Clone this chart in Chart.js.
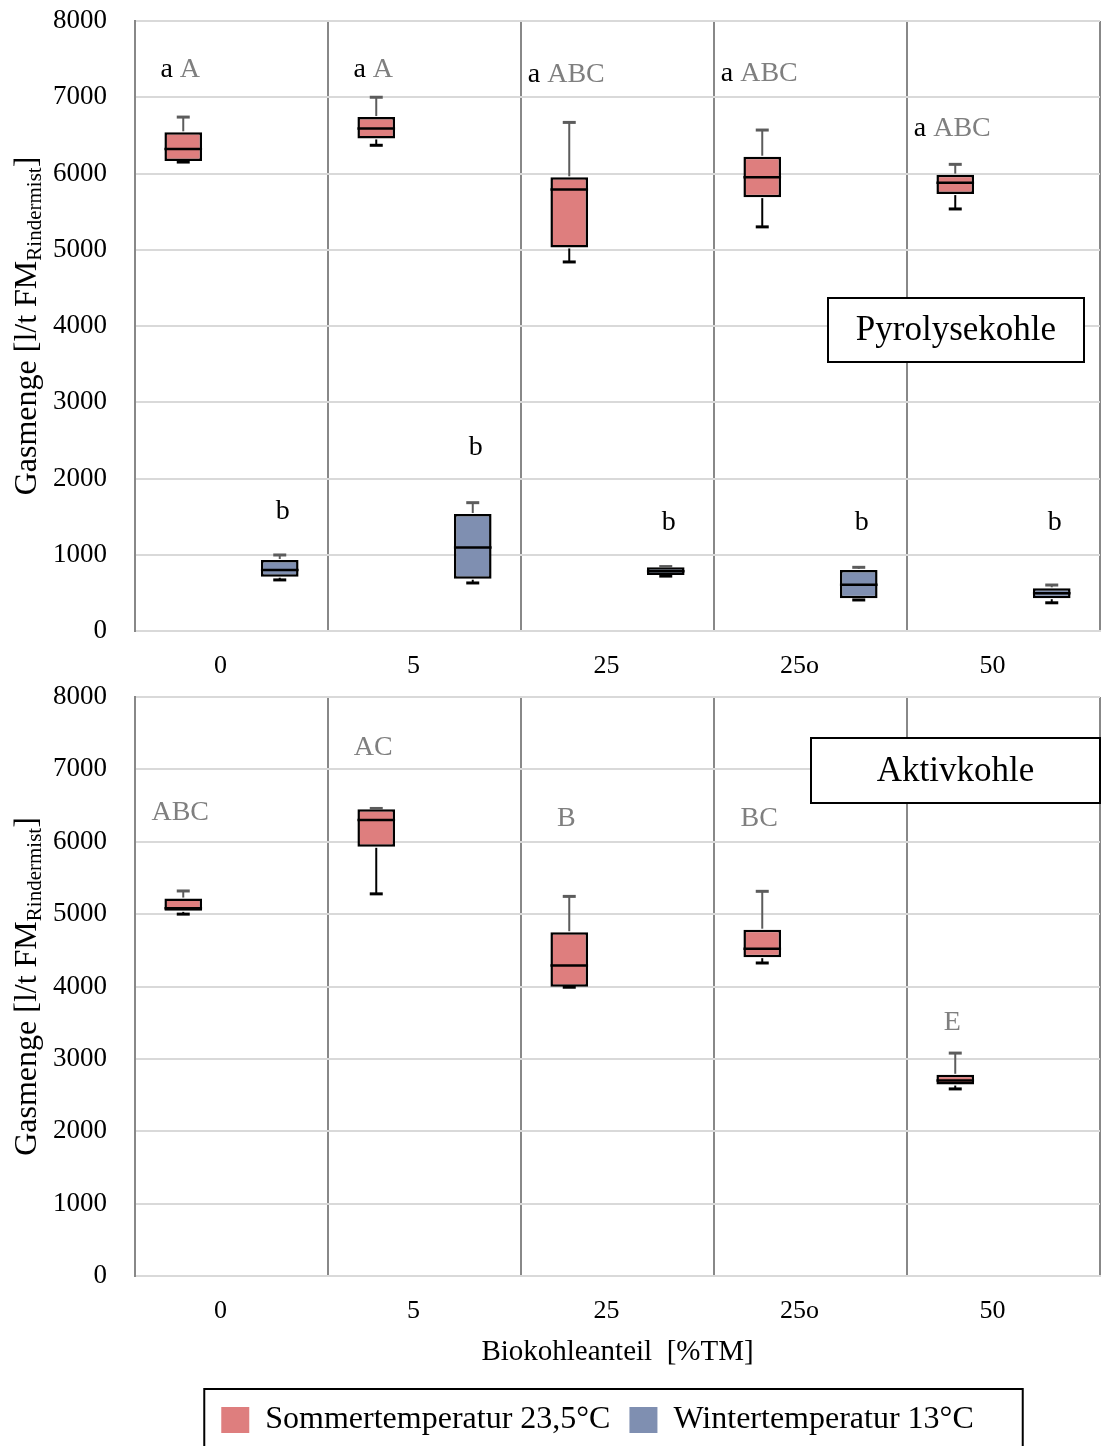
<!DOCTYPE html>
<html><head><meta charset="utf-8">
<script src="https://cdn.jsdelivr.net/npm/chart.js@4.4.1/dist/chart.umd.min.js"></script>
<style>
html,body{margin:0;padding:0;background:#fff;overflow:hidden;}
#wrap{position:relative;width:1102px;height:1446px;overflow:hidden;}
.cv{position:absolute;left:0;}
</style></head><body>
<div id="wrap">
<canvas id="c1" class="cv" width="1102" height="680" style="top:0"></canvas>
<canvas id="c2" class="cv" width="1102" height="766" style="top:680px"></canvas>
</div>
<script>
// ---------- DATA ----------
const categories = ['0', '5', '25', '25o', '50'];
const seriesNames = ['Sommertemperatur 23,5°C', 'Wintertemperatur 13°C'];
const yTicks = [0, 1000, 2000, 3000, 4000, 5000, 6000, 7000, 8000];

// Pyrolysekohle – Sommer
const pyroSummerMin    = [6150, 6370, 4840, 5300, 5535];
const pyroSummerQ1     = [6165, 6460, 5030, 5690, 5730];
const pyroSummerMedian = [6320, 6590, 5790, 5950, 5880];
const pyroSummerQ3     = [6540, 6740, 5950, 6220, 5985];
const pyroSummerMax    = [6740, 7000, 6670, 6570, 6120];
// Pyrolysekohle – Winter
const pyroWinterMin    = [670, 630, 720, 407, 370];
const pyroWinterQ1     = [712, 686, 735, 428, 430];
const pyroWinterMedian = [800, 1095, 783, 608, 494];
const pyroWinterQ3     = [931, 1534, 835, 800, 560];
const pyroWinterMax    = [997, 1683, 845, 835, 603];
// Aktivkohle – Sommer
const aktivSummerMin    = [5000, 5280, 3990, 4325, 2585];
const aktivSummerQ1     = [5045, 5930, 3995, 4405, 2645];
const aktivSummerMedian = [5080, 6300, 4290, 4520, 2700];
const aktivSummerQ3     = [5215, 6450, 4750, 4785, 2780];
const aktivSummerMax    = [5320, 6460, 5245, 5315, 3080];
const emptySeries       = [null, null, null, null, null];

// significance letters
const pyroSummerGroup   = ['a', 'a', 'a', 'a', 'a'];
const pyroSummerLetters = ['A', 'A', 'ABC', 'ABC', 'ABC'];
const pyroSummerLabelAt = [7357, 7357, 7292, 7305, 6584];
const pyroWinterLetters = ['b', 'b', 'b', 'b', 'b'];
const pyroWinterLabelAt = [1561, 2400, 1416, 1416, 1416];
const aktivSummerLetters = ['ABC', 'AC', 'B', 'BC', 'E'];
const aktivSummerLabelAt = [6408, 7294, 6325, 6325, 3502];

const panelTitles = ['Pyrolysekohle', 'Aktivkohle'];
const yTitleMain = 'Gasmenge [l/t FM';
const yTitleSub = 'Rindermist';
const xTitle = 'Biokohleanteil  [%TM]';

// ---------- STYLE ----------
const SERIF = "'Liberation Serif', 'Times New Roman', serif";
const RED = '#de7e7e';
const BLUE = '#7f8fb1';
const GRAY_TXT = '#7f7f7f';

function boxDataset(label, color, q1, q3, mn, med, mx) {
  return {
    label: label,
    data: q1.map((v, i) => (v == null ? null : [v, q3[i]])),
    stats: { min: mn, median: med, max: mx },
    backgroundColor: color,
    borderColor: '#000',
    borderWidth: 2.5,
    borderSkipped: false,
    categoryPercentage: 1.0,
    barPercentage: 0.39
  };
}

function line(ctx, x1, y1, x2, y2) {
  ctx.beginPath(); ctx.moveTo(x1, y1); ctx.lineTo(x2, y2); ctx.stroke();
}

const boxExtras = {
  id: 'boxExtras',
  afterDatasetsDraw(chart) {
    const ctx = chart.ctx, y = chart.scales.y;
    chart.data.datasets.forEach((ds, di) => {
      if (!ds.stats) return;
      const meta = chart.getDatasetMeta(di);
      meta.data.forEach((bar, i) => {
        const d = ds.data[i];
        if (d == null) return;
        const x = bar.x, w = bar.width, cap = 13;
        const yMin = y.getPixelForValue(ds.stats.min[i]);
        const yMax = y.getPixelForValue(ds.stats.max[i]);
        const yQ1 = y.getPixelForValue(d[0]);
        const yQ3 = y.getPixelForValue(d[1]);
        const yMed = y.getPixelForValue(ds.stats.median[i]);
        ctx.save();
        ctx.lineCap = 'butt';
        ctx.strokeStyle = '#5c5c5c';
        ctx.lineWidth = 2;
        line(ctx, x, yQ3 - 1, x, yMax);
        ctx.lineWidth = 3;
        line(ctx, x - cap / 2, yMax, x + cap / 2, yMax);
        ctx.strokeStyle = '#000';
        ctx.lineWidth = 2;
        line(ctx, x, yQ1 + 1, x, yMin);
        ctx.lineWidth = 3;
        line(ctx, x - cap / 2, yMin, x + cap / 2, yMin);
        ctx.lineWidth = 2.5;
        line(ctx, x - w / 2, yMed, x + w / 2, yMed);
        ctx.restore();
      });
    });
  }
};

function drawParts(ctx, cx, cy, parts, size) {
  ctx.save();
  ctx.font = size + 'px ' + SERIF;
  ctx.textBaseline = 'middle';
  ctx.textAlign = 'left';
  const total = parts.reduce((s, p) => s + ctx.measureText(p.t).width, 0);
  let x = cx - total / 2;
  parts.forEach(p => {
    ctx.fillStyle = p.c;
    ctx.fillText(p.t, x, cy);
    x += ctx.measureText(p.t).width;
  });
  ctx.restore();
}

const annotations = {
  id: 'annotations',
  afterDatasetsDraw(chart, args, opts) {
    const ctx = chart.ctx, y = chart.scales.y, ca = chart.chartArea;
    const m0 = chart.getDatasetMeta(0), m1 = chart.getDatasetMeta(1);
    (opts.summer || []).forEach((lab, i) => {
      const parts = [];
      if (opts.group) parts.push({ t: opts.group[i] + ' ', c: '#000' });
      parts.push({ t: lab, c: GRAY_TXT });
      drawParts(ctx, m0.data[i].x - 3, y.getPixelForValue(opts.summerAt[i]), parts, 28);
    });
    (opts.winter || []).forEach((lab, i) => {
      drawParts(ctx, m1.data[i].x + 3, y.getPixelForValue(opts.winterAt[i]), [{ t: lab, c: '#000' }], 28);
    });
    // panel title box
    const b = opts.box;
    const left = ca.right - b.fromRight, top = ca.top + b.fromTop;
    ctx.save();
    ctx.fillStyle = '#fff';
    ctx.fillRect(left, top, b.w, b.h);
    ctx.strokeStyle = '#000';
    ctx.lineWidth = 2;
    ctx.strokeRect(left, top, b.w, b.h);
    ctx.restore();
    drawParts(ctx, left + b.w / 2, top + b.h / 2 + 1, [{ t: opts.title, c: '#000' }], 35);
  }
};

const yTitle = {
  id: 'yTitle',
  afterDraw(chart) {
    const ctx = chart.ctx, ca = chart.chartArea;
    const cy = (ca.top + ca.bottom) / 2;
    ctx.save();
    ctx.translate(36, cy);
    ctx.rotate(-Math.PI / 2);
    ctx.fillStyle = '#000';
    ctx.textBaseline = 'alphabetic';
    ctx.textAlign = 'left';
    const fMain = '32px ' + SERIF, fSub = '21px ' + SERIF;
    ctx.font = fMain; const w1 = ctx.measureText(yTitleMain).width; const w3 = ctx.measureText(']').width;
    ctx.font = fSub; const w2 = ctx.measureText(yTitleSub).width;
    let x = -(w1 + w2 + w3) / 2;
    ctx.font = fMain; ctx.fillText(yTitleMain, x, 0); x += w1;
    ctx.font = fSub; ctx.fillText(yTitleSub, x, 5); x += w2;
    ctx.font = fMain; ctx.fillText(']', x, 0);
    ctx.restore();
  }
};

const legendTweak = {
  id: 'legendTweak',
  afterLayout(chart) {
    if (chart.legend && chart.options.plugins.legend.display) {
      chart.legend.left -= 20;
      chart.legend.right -= 20;
    }
  },
  afterDraw(chart) {
    const lg = chart.legend;
    if (!lg || !chart.options.plugins.legend.display) return;
    const hb = lg.legendHitBoxes;
    const left = hb[0].left - 17;
    const right = hb[hb.length - 1].left + hb[hb.length - 1].width + 49;
    const ctx = chart.ctx;
    ctx.save();
    ctx.strokeStyle = '#000';
    ctx.lineWidth = 2;
    ctx.strokeRect(left, lg.top + 4, right - left, chart.height);
    ctx.restore();
  }
};

function makeOptions(bottom) {
  return {
    responsive: false,
    animation: false,
    layout: { padding: { top: bottom ? 17 : 21, right: 2, left: 0, bottom: 0 } },
    plugins: {
      legend: {
        display: bottom,
        position: 'bottom',
        fullSize: false,
        labels: {
          boxWidth: 28, boxHeight: 26, padding: 19, color: '#000',
          font: { family: SERIF, size: 32 },
          generateLabels: chart => chart.data.datasets.map((ds, i) => ({
            text: ds.label, fillStyle: ds.backgroundColor, strokeStyle: ds.backgroundColor,
            lineWidth: 0, hidden: false, datasetIndex: i, fontColor: '#000'
          }))
        }
      },
      tooltip: { enabled: false },
      annotations: bottom ? {
        summer: aktivSummerLetters, summerAt: aktivSummerLabelAt,
        title: panelTitles[1], box: { fromRight: 289, fromTop: 41, w: 289, h: 65 }
      } : {
        group: pyroSummerGroup, summer: pyroSummerLetters, summerAt: pyroSummerLabelAt,
        winter: pyroWinterLetters, winterAt: pyroWinterLabelAt,
        title: panelTitles[0], box: { fromRight: 272, fromTop: 277, w: 256, h: 64 }
      }
    },
    scales: {
      x: {
        type: 'category',
        offset: true,
        grid: { display: true, offset: true, color: '#888', lineWidth: 2, drawTicks: false },
        border: { display: true, color: '#d9d9d9', width: 2 },
        ticks: { color: '#000', font: { family: SERIF, size: 26 }, padding: 20, labelOffset: -11, maxRotation: 0 },
        title: bottom ? { display: true, text: xTitle, color: '#000', font: { family: SERIF, size: 29 }, padding: { top: 0, bottom: 15 } } : { display: false },
        afterFit: s => { s.height = bottom ? 109 : 49; }
      },
      y: {
        min: 0, max: 8000,
        afterBuildTicks: s => { s.ticks = yTicks.map(v => ({ value: v })); },
        grid: { color: '#d9d9d9', lineWidth: 2, drawTicks: true, tickLength: 28, tickColor: 'rgba(0,0,0,0)' },
        border: { display: true, color: '#888', width: 2 },
        ticks: { color: '#000', font: { family: SERIF, size: 27 }, padding: 0, callback: v => String(v) },
        afterFit: s => { s.width = 135; }
      }
    }
  };
}

new Chart(document.getElementById('c1'), {
  type: 'bar',
  data: {
    labels: categories,
    datasets: [
      boxDataset(seriesNames[0], RED, pyroSummerQ1, pyroSummerQ3, pyroSummerMin, pyroSummerMedian, pyroSummerMax),
      boxDataset(seriesNames[1], BLUE, pyroWinterQ1, pyroWinterQ3, pyroWinterMin, pyroWinterMedian, pyroWinterMax)
    ]
  },
  options: makeOptions(false),
  plugins: [boxExtras, annotations, yTitle, legendTweak]
});

new Chart(document.getElementById('c2'), {
  type: 'bar',
  data: {
    labels: categories,
    datasets: [
      boxDataset(seriesNames[0], RED, aktivSummerQ1, aktivSummerQ3, aktivSummerMin, aktivSummerMedian, aktivSummerMax),
      boxDataset(seriesNames[1], BLUE, emptySeries, emptySeries, emptySeries, emptySeries, emptySeries)
    ]
  },
  options: makeOptions(true),
  plugins: [boxExtras, annotations, yTitle, legendTweak]
});
</script>
</body></html>
